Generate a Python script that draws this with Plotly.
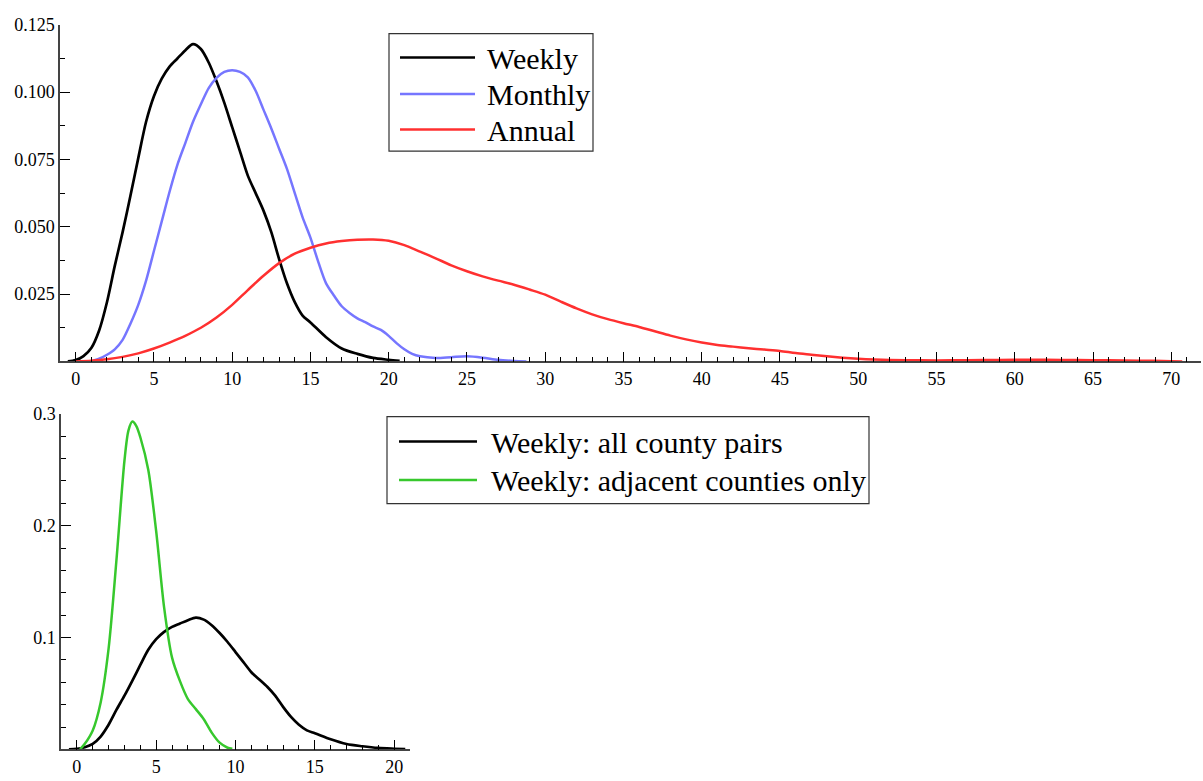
import plotly.graph_objects as go

# ---------------- data ----------------
weekly_x = [-0.5, 0, 0.5, 1, 1.5, 2, 2.5, 3, 3.5, 4, 4.5, 5, 5.5, 6, 6.5, 7, 7.5, 8, 8.5, 9, 9.5,
            10, 10.5, 11, 11.5, 12, 12.5, 13, 13.5, 14, 14.5, 15, 16, 17, 18, 19, 20, 20.7]
weekly_y = [0, 0.0005, 0.002, 0.005, 0.0115, 0.022, 0.0355, 0.048, 0.0615, 0.0755, 0.089, 0.0985,
            0.105, 0.1095, 0.1125, 0.1155, 0.1178, 0.116, 0.111, 0.104, 0.096, 0.087, 0.078, 0.069,
            0.0625, 0.056, 0.048, 0.038, 0.029, 0.022, 0.017, 0.0145, 0.009, 0.0048, 0.0028, 0.0013,
            0.0006, 0.0002]

monthly_x = [1, 1.5, 2, 2.5, 3, 3.5, 4, 4.5, 5, 5.5, 6, 6.5, 7, 7.5, 8, 8.5, 9, 9.5, 10, 10.5, 11,
             11.5, 12, 12.5, 13, 13.5, 14, 14.5, 15, 15.5, 16, 16.5, 17, 17.5, 18, 18.5, 19, 19.5,
             20, 20.5, 21, 21.5, 22, 23, 24, 25, 26, 27, 28, 28.8]
monthly_y = [0, 0.001, 0.0025, 0.0045, 0.008, 0.014, 0.021, 0.030, 0.041, 0.052, 0.063, 0.073,
             0.081, 0.089, 0.0955, 0.1015, 0.1053, 0.1075, 0.1081, 0.1075, 0.1055, 0.1005, 0.0935,
             0.0865, 0.079, 0.0715, 0.0625, 0.0535, 0.046, 0.037, 0.029, 0.0245, 0.0205, 0.018,
             0.016, 0.0146, 0.013, 0.0117, 0.0095, 0.0068, 0.0045, 0.0028, 0.0019, 0.0013, 0.0016,
             0.0019, 0.0014, 0.0006, 0.0002, 0]

annual_x = [0, 1, 2, 3, 4, 5, 6, 7, 8, 9, 10, 11, 12, 13, 14, 15, 16, 17, 18, 19, 20, 21, 22, 23,
            24, 25, 26, 27, 28, 29, 30, 31, 32, 33, 34, 35, 36, 37, 38, 39, 40, 41, 42, 43, 44, 45,
            46, 47, 48, 49, 50, 51, 52, 54, 56, 58, 60, 62, 64, 66, 68, 70, 70.7]
annual_y = [0, 0.0003, 0.0008, 0.0017, 0.003, 0.0048, 0.007, 0.0095, 0.0125, 0.0163, 0.0210,
            0.0265, 0.0318, 0.0365, 0.0400, 0.0422, 0.0438, 0.0447, 0.0452, 0.0453, 0.0448, 0.0432,
            0.0408, 0.0383, 0.0357, 0.0335, 0.0316, 0.0300, 0.0285, 0.0267, 0.0248, 0.0222, 0.0197,
            0.0175, 0.0157, 0.0142, 0.0128, 0.0112, 0.0096, 0.0082, 0.0070, 0.0061, 0.0055, 0.0049,
            0.0044, 0.0039, 0.0031, 0.0025, 0.0019, 0.0014, 0.0010, 0.0007, 0.0005, 0.0004, 0.0004,
            0.0005, 0.0006, 0.0006, 0.0005, 0.0004, 0.0003, 0.0001, 0]

adjacent_x = [0.2, 0.5, 1, 1.5, 2, 2.5, 3, 3.25, 3.5, 3.75, 4, 4.5, 5, 5.5, 6, 6.5, 7, 7.5, 8, 8.5,
              9, 9.5, 9.8]
adjacent_y = [0, 0.005, 0.017, 0.042, 0.09, 0.17, 0.258, 0.285, 0.293, 0.289, 0.279, 0.25, 0.195,
              0.127, 0.082, 0.061, 0.045, 0.036, 0.027, 0.015, 0.006, 0.0015, 0.0005]

top_names = ["Weekly", "Monthly", "Annual"]
bottom_names = ["Weekly: all county pairs", "Weekly: adjacent counties only"]

top_yticks = [0.025, 0.050, 0.075, 0.100, 0.125]
top_yticktext = ["0.025", "0.050", "0.075", "0.100", "0.125"]
bottom_yticks = [0.1, 0.2, 0.3]
bottom_yticktext = ["0.1", "0.2", "0.3"]

# ---------------- styles ----------------
BLACK = "#000000"
BLUE = "rgb(118,118,255)"
RED = "rgb(255,48,48)"
GREEN = "rgb(55,200,45)"
FONT = "Liberation Serif, Times New Roman, serif"
W, H = 1203, 781

fig = go.Figure()

def add(x, y, color, xa, ya, width=2.5):
    fig.add_trace(go.Scatter(x=x, y=y, mode="lines", xaxis=xa, yaxis=ya,
                             line=dict(color=color, width=width, shape="spline", smoothing=0.8),
                             showlegend=False, hoverinfo="skip"))

add(weekly_x, weekly_y, BLACK, "x", "y", 2.7)
add(monthly_x, monthly_y, BLUE, "x", "y")
add(annual_x, annual_y, RED, "x", "y")
add(weekly_x, weekly_y, BLACK, "x2", "y2", 2.7)
add(adjacent_x, adjacent_y, GREEN, "x2", "y2")

def px2x(p):
    return p / W

def px2y(p):
    return 1 - p / H

axis_common = dict(showline=True, linecolor="#444444", linewidth=1.5, showgrid=False,
                   zeroline=False, ticks="inside", ticklen=10, tickwidth=1.2,
                   tickcolor="#000000", mirror=False,
                   tickfont=dict(family=FONT, size=18, color="#000000"))

fig.update_layout(
    width=W, height=H,
    margin=dict(l=0, r=0, t=0, b=0),
    paper_bgcolor="white", plot_bgcolor="white",
    showlegend=False,
    xaxis=dict(domain=[px2x(60), px2x(1201)], range=[-1, 71.9], anchor="y",
               tickmode="linear", tick0=0, dtick=5,
               minor=dict(ticks="inside", ticklen=5, tick0=0, dtick=1, tickcolor="#000000", tickwidth=1.2),
               **axis_common),
    yaxis=dict(domain=[px2y(356), px2y(15)], range=[0, 0.125], anchor="x",
               tickmode="array", tickvals=top_yticks, ticktext=top_yticktext,
               minor=dict(ticks="inside", ticklen=5, tick0=0, dtick=0.0125, tickcolor="#000000", tickwidth=1.2),
               **axis_common),
    xaxis2=dict(domain=[px2x(61), px2x(410)], range=[-1, 21], anchor="y2",
                tickmode="linear", tick0=0, dtick=5,
                minor=dict(ticks="inside", ticklen=5, tick0=0, dtick=1, tickcolor="#000000", tickwidth=1.2),
                **axis_common),
    yaxis2=dict(domain=[px2y(749), px2y(409)], range=[0, 0.3], anchor="x2",
                tickmode="array", tickvals=bottom_yticks, ticktext=bottom_yticktext,
                minor=dict(ticks="inside", ticklen=5, tick0=0, dtick=0.02, tickcolor="#000000", tickwidth=1.2),
                **axis_common),
)

# ---------------- manual legends ----------------
shapes = []
annotations = []

def legend(box, rows, line_x0, line_x1, text_x, names, colors):
    x0, y0, x1, y1 = box
    shapes.append(dict(type="rect", xref="paper", yref="paper",
                       x0=px2x(x0), x1=px2x(x1), y0=px2y(y1), y1=px2y(y0),
                       line=dict(color="#333333", width=1.2), fillcolor="white", layer="above"))
    for ry, name, col in zip(rows, names, colors):
        shapes.append(dict(type="line", xref="paper", yref="paper",
                           x0=px2x(line_x0), x1=px2x(line_x1), y0=px2y(ry), y1=px2y(ry),
                           line=dict(color=col, width=2.5), layer="above"))
        annotations.append(dict(xref="paper", yref="paper", x=px2x(text_x), y=px2y(ry + 1),
                                xanchor="left", yanchor="middle", showarrow=False, text=name,
                                font=dict(family=FONT, size=30, color="#000000")))

legend((389, 24, 593, 143), [48, 85, 121], 400, 475, 485, top_names, [BLACK, BLUE, RED])
legend((387, 412, 869, 500), [437, 476], 399, 477, 489, bottom_names, [BLACK, GREEN])

fig.update_layout(shapes=shapes, annotations=annotations)

fig.write_html("out.html",
               config={"displayModeBar": False},
               post_script="document.body.style.margin='0';document.body.style.overflow='hidden';"
                           "document.documentElement.style.overflow='hidden';")
